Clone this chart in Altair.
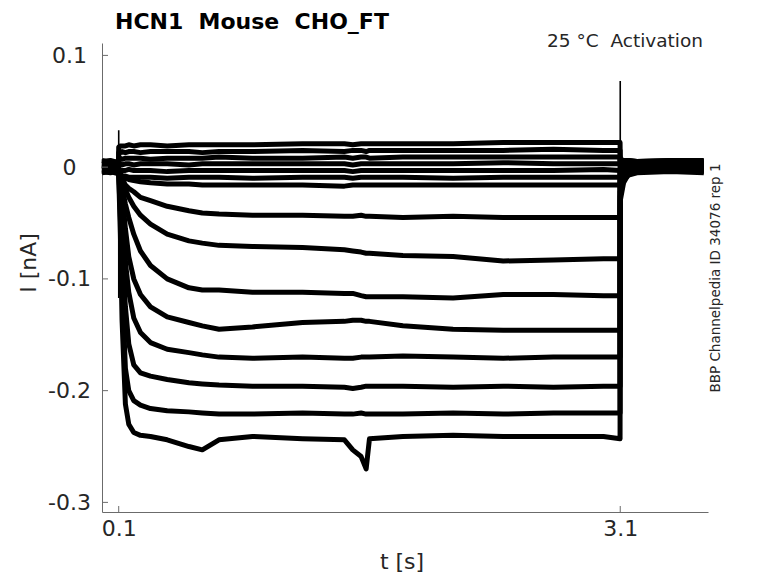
import altair as alt
import pandas as pd

# ---------------- data ----------------
T_PRE = [0.0, 0.05, 0.099]
T_STEP = [0.1, 0.11, 0.12, 0.14, 0.16, 0.19, 0.23, 0.29, 0.39, 0.52, 0.6, 0.7, 0.9,
          1.2, 1.45, 1.5, 1.55, 1.58, 1.6, 1.8, 2.1, 2.4, 2.7, 3.0, 3.099]
T_POST = [3.1, 3.12, 3.15, 3.2, 3.4, 3.6]

# holding current before / after the step for each sweep (nA)
PRE = {
    "A1": [0.006, 0.004, 0.005], "A2": [0.004, 0.005, 0.003], "A3": [0.002, 0.001, 0.002],
    "A4": [0.005, 0.006, 0.004], "A5": [-0.002, -0.001, -0.002], "A6": [0.001, 0.002, 0.000],
    "A7": [-0.004, -0.005, -0.003], "T1": [0.003, 0.002, 0.003], "T2": [-0.001, 0.000, -0.001],
    "T3": [0.000, -0.001, 0.001], "T4": [-0.003, -0.004, -0.002], "T5": [0.002, 0.003, 0.001],
    "T6": [-0.005, -0.004, -0.006], "T7": [0.001, 0.000, 0.002], "T8": [-0.002, -0.003, -0.001],
}
STEP = {
    "A1": [0.018, 0.019, 0.019, 0.019, 0.020, 0.019, 0.020, 0.020, 0.019, 0.020, 0.020, 0.020, 0.020,
           0.021, 0.021, 0.020, 0.021, 0.021, 0.021, 0.021, 0.021, 0.022, 0.022, 0.022, 0.022],
    "A2": [0.013, 0.013, 0.014, 0.013, 0.014, 0.014, 0.013, 0.014, 0.014, 0.014, 0.013, 0.014, 0.014,
           0.015, 0.014, 0.015, 0.015, 0.014, 0.015, 0.015, 0.015, 0.015, 0.016, 0.015, 0.015],
    "A3": [0.008, 0.008, 0.007, 0.008, 0.008, 0.008, 0.008, 0.007, 0.008, 0.008, 0.008, 0.009, 0.008,
           0.008, 0.009, 0.008, 0.009, 0.009, 0.008, 0.009, 0.009, 0.009, 0.009, 0.009, 0.009],
    "A4": [0.003, 0.003, 0.002, 0.003, 0.003, 0.002, 0.003, 0.003, 0.003, 0.002, 0.003, 0.003, 0.003,
           0.003, 0.003, 0.002, 0.003, 0.003, 0.003, 0.003, 0.003, 0.004, 0.003, 0.003, 0.003],
    "A5": [-0.002, -0.003, -0.003, -0.003, -0.002, -0.003, -0.003, -0.003, -0.004, -0.003, -0.003, -0.003, -0.003,
           -0.003, -0.003, -0.004, -0.003, -0.003, -0.003, -0.003, -0.003, -0.003, -0.003, -0.002, -0.003],
    "A6": [-0.006, -0.007, -0.008, -0.008, -0.009, -0.009, -0.009, -0.009, -0.010, -0.009, -0.009, -0.009, -0.010,
           -0.009, -0.009, -0.010, -0.009, -0.009, -0.009, -0.009, -0.010, -0.009, -0.009, -0.009, -0.009],
    "A7": [-0.006, -0.008, -0.009, -0.010, -0.011, -0.012, -0.013, -0.014, -0.015, -0.015, -0.016, -0.016, -0.016,
           -0.016, -0.017, -0.016, -0.016, -0.016, -0.016, -0.016, -0.016, -0.016, -0.016, -0.016, -0.016],
    "T1": [-0.002, -0.005, -0.010, -0.016, -0.019, -0.022, -0.027, -0.030, -0.035, -0.039, -0.041, -0.042, -0.043,
           -0.043, -0.044, -0.044, -0.043, -0.044, -0.044, -0.045, -0.044, -0.045, -0.045, -0.045, -0.045],
    "T2": [-0.002, -0.005, -0.012, -0.020, -0.027, -0.035, -0.043, -0.051, -0.060, -0.066, -0.068, -0.070, -0.071,
           -0.072, -0.074, -0.075, -0.076, -0.077, -0.077, -0.079, -0.080, -0.084, -0.083, -0.082, -0.082],
    "T3": [-0.003, -0.008, -0.018, -0.033, -0.045, -0.060, -0.075, -0.088, -0.100, -0.108, -0.110, -0.110, -0.112,
           -0.112, -0.113, -0.113, -0.115, -0.116, -0.116, -0.116, -0.117, -0.114, -0.114, -0.115, -0.115],
    "T4": [-0.003, -0.010, -0.022, -0.055, -0.080, -0.100, -0.114, -0.125, -0.134, -0.139, -0.142, -0.145, -0.143,
           -0.139, -0.138, -0.137, -0.137, -0.138, -0.138, -0.142, -0.145, -0.146, -0.146, -0.146, -0.146],
    "T5": [-0.004, -0.015, -0.045, -0.085, -0.112, -0.135, -0.148, -0.157, -0.163, -0.166, -0.168, -0.170, -0.171,
           -0.170, -0.171, -0.171, -0.170, -0.170, -0.170, -0.169, -0.170, -0.171, -0.170, -0.170, -0.170],
    "T6": [-0.005, -0.030, -0.075, -0.125, -0.158, -0.177, -0.184, -0.187, -0.190, -0.193, -0.194, -0.195, -0.196,
           -0.196, -0.197, -0.198, -0.197, -0.196, -0.196, -0.196, -0.197, -0.196, -0.197, -0.196, -0.196],
    "T7": [-0.006, -0.045, -0.105, -0.180, -0.200, -0.209, -0.213, -0.216, -0.218, -0.219, -0.220, -0.221, -0.221,
           -0.220, -0.221, -0.221, -0.220, -0.221, -0.221, -0.221, -0.220, -0.221, -0.220, -0.220, -0.220],
    "T8": [-0.008, -0.060, -0.137, -0.212, -0.230, -0.2375, -0.240, -0.241, -0.244, -0.250, -0.253, -0.244, -0.241,
           -0.243, -0.244, -0.253, -0.259, -0.270, -0.243, -0.241, -0.240, -0.241, -0.241, -0.241, -0.243],
}
POST = {
    "A1": [0.006, 0.005, 0.006, 0.005, 0.006, 0.005], "A2": [0.004, 0.004, 0.003, 0.004, 0.005, 0.004],
    "A3": [0.002, 0.002, 0.001, 0.002, 0.002, 0.001], "A4": [0.007, 0.006, 0.006, 0.005, 0.006, 0.006],
    "A5": [-0.002, -0.002, -0.001, -0.002, -0.001, -0.002], "A6": [0.001, 0.001, 0.000, 0.001, 0.002, 0.001],
    "A7": [-0.004, -0.004, -0.003, -0.004, -0.003, -0.004], "T1": [0.002, 0.003, 0.003, 0.002, 0.003, 0.003],
    "T2": [-0.003, -0.002, -0.001, -0.001, 0.000, -0.001], "T3": [-0.006, -0.003, -0.001, 0.000, 0.001, 0.000],
    "T4": [-0.012, -0.007, -0.004, -0.003, -0.002, -0.003], "T5": [-0.016, -0.007, -0.002, 0.001, 0.002, 0.001],
    "T6": [-0.022, -0.012, -0.007, -0.005, -0.004, -0.005], "T7": [-0.026, -0.011, -0.003, 0.000, 0.001, 0.000],
    "T8": [-0.030, -0.014, -0.006, -0.003, -0.002, -0.002],
}
# capacitive transients at step on / off
ON_T = [0.0999, 0.1, 0.1003, 0.1006]
ON_V = [0.0, 0.033, -0.117, -0.005]
OFF_T = [3.0999, 3.1, 3.1003]
OFF_V = [-0.02, 0.077, -0.030]

Y_TICKS = [0.1, 0.0, -0.1, -0.2, -0.3]
X_TICKS = [0.1, 3.1]

TITLE = "HCN1\u00a0\u00a0Mouse\u00a0\u00a0CHO_FT"
SUBTITLE = "25 °C\u00a0\u00a0Activation"
SIDE = "BBP Channelpedia ID 34076 rep 1"

# ---------------- build tables ----------------
rows = []
for name in STEP:
    for t, v in zip(T_PRE + T_STEP + T_POST, PRE[name] + STEP[name] + POST[name]):
        rows.append({"t": t, "i": v, "sweep": name})
traces = pd.DataFrame(rows)
art = pd.DataFrame(
    [{"t": t, "i": v, "sweep": "on"} for t, v in zip(ON_T, ON_V)]
    + [{"t": t, "i": v, "sweep": "off"} for t, v in zip(OFF_T, OFF_V)]
)

W, H = 606, 469
FONT = "DejaVu Sans"
GREY = "#262626"
AX = "#6b6b6b"

xs = alt.Scale(domain=[0.0, 3.625], nice=False, zero=False)
ys = alt.Scale(domain=[-0.3086, 0.1111], nice=False, zero=False)

x_axis = alt.Axis(values=X_TICKS, format=".1f", ticks=False, grid=False, title=None,
                  labelFont=FONT, labelFontSize=22, labelColor=GREY, labelPadding=6,
                  domainColor=AX, domainWidth=1)
y_axis = alt.Axis(values=Y_TICKS, ticks=False, grid=False, title=None,
                  labelExpr="datum.value == 0 ? '0' : (datum.value < 0 ? '-' : '') + format(abs(datum.value), '.1f')",
                  labelFont=FONT, labelFontSize=22, labelColor=GREY, labelPadding=33,
                  labelAlign="center", labelBaseline="middle",
                  domainColor=AX, domainWidth=1)

lines = alt.Chart(traces).mark_line(color="black", strokeWidth=5, strokeJoin="round").encode(
    x=alt.X("t:Q", scale=xs, axis=x_axis),
    y=alt.Y("i:Q", scale=ys, axis=y_axis),
    detail="sweep:N",
)
spikes = alt.Chart(art).mark_line(color="black", strokeWidth=1.6).encode(
    x=alt.X("t:Q", scale=xs),
    y=alt.Y("i:Q", scale=ys),
    detail="sweep:N",
)

yt = alt.Chart(pd.DataFrame({"v": Y_TICKS})).mark_rule(color=AX, strokeWidth=1).encode(
    y=alt.Y("v:Q", scale=ys), x=alt.value(0), x2=alt.value(6)
)
xt = alt.Chart(pd.DataFrame({"v": X_TICKS})).mark_rule(color=AX, strokeWidth=1).encode(
    x=alt.X("v:Q", scale=xs), y=alt.value(H), y2=alt.value(H - 6)
)


def label(text, x, y, size, weight="normal", align="center", baseline="alphabetic", angle=0):
    return alt.Chart(pd.DataFrame({"s": [text]})).mark_text(
        font=FONT, fontSize=size, fontWeight=weight, align=align, baseline=baseline,
        angle=angle, color="black" if weight == "bold" else GREY,
    ).encode(text="s:N", x=alt.value(x), y=alt.value(y))


title = label(TITLE, 13, -14.5, 22, weight="bold", align="left")
sub = label(SUBTITLE, 601, 4, 18.5, align="right")
side = label(SIDE, 614, 235, 13.5, baseline="middle", angle=270)
xlab = label("t [s]", 300, 531, 22, baseline="bottom")
ylab = label("I [nA]", -73, 220, 22, baseline="middle", angle=270)

chart = alt.layer(lines, spikes, yt, xt, title, sub, side, xlab, ylab).properties(
    width=W, height=H,
    autosize=alt.AutoSizeParams(type="none"),
    padding={"left": 94, "top": 35, "right": 62, "bottom": 63},
).configure_view(strokeWidth=0, stroke="transparent")

chart.save("out.html", embed_options={"renderer": "svg", "actions": False})
